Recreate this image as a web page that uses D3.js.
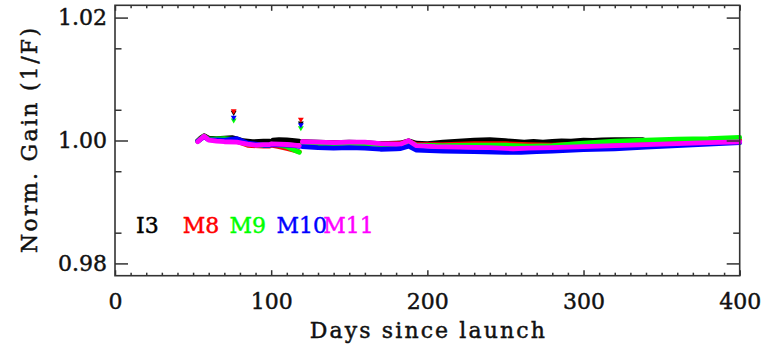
<!DOCTYPE html>
<html>
<head>
<meta charset="utf-8">
<script src="https://cdn.jsdelivr.net/npm/d3@7"></script>
<style>
  html, body { margin: 0; padding: 0; background: #fff; }
  svg { display: block; }
</style>
</head>
<body>
<svg id="chart" width="762" height="347"></svg>
<script>
// Normalized gain history per band; null marks a gap in the record.
const seriesNames  = ["I3", "M8", "M9", "M10", "M11"];
const seriesColors = ["#000000", "#ff0000", "#00ff00", "#0000ff", "#ff00ff"];

const i3Days = [53,55,57,60,65,70,75,78,82,88,95,99,99.5,101,105,110,115,118,119,120,130,140,150,160,170,180,183,188,193,200,210,220,230,240,250,256,262,268,274,280,286,292,300,306,312,320,330,338];
const i3Gain = [0.99997,1.00046,1.00078,1.00037,1.00029,1.00037,1.00046,1.00029,0.99997,0.99980,0.99989,0.99989,null,1.00005,1.00013,1.00008,0.99997,0.99989,null,0.99980,0.99972,0.99964,0.99972,0.99964,0.99948,0.99956,0.99960,0.99997,0.99956,0.99948,0.99972,0.99989,1.00005,1.00013,0.99997,0.99985,0.99975,0.99985,0.99975,0.99985,0.99995,0.99990,1.00005,1.00000,1.00010,1.00013,1.00013,1.00013];

const m8Days = [53,57,60,70,78,85,95,99,99.5,100,105,110,115,118,119,120,130,140,150,160,170,180,183,188,193,210,230,250,265,280,300,320,340,360,380,400];
const m8Gain = [0.99989,1.00070,1.00021,0.99997,0.99989,0.99923,0.99907,0.99907,null,0.99925,0.99900,0.99870,0.99840,0.99818,null,0.99972,0.99964,0.99956,0.99964,0.99956,0.99940,0.99948,0.99950,0.99989,0.99932,0.99932,0.99948,0.99948,0.99932,0.99923,0.99948,0.99956,0.99972,0.99980,0.99989,1.00005];

const m9Days = [53,57,60,70,78,85,95,99,99.5,100,105,110,115,118,119,120,130,140,150,160,170,180,183,188,193,210,230,250,265,280,300,320,340,360,380,400];
const m9Gain = [0.99989,1.00070,1.00021,1.00029,1.00013,0.99940,0.99923,0.99923,null,0.99940,0.99923,0.99899,0.99842,0.99809,null,0.99956,0.99948,0.99948,0.99956,0.99948,0.99932,0.99932,0.99935,0.99980,0.99923,0.99915,0.99923,0.99923,0.99907,0.99915,0.99956,0.99989,1.00005,1.00021,1.00029,1.00049];

const m10Days = [53,57,60,70,78,85,95,99,99.5,100,105,110,115,118,119,120,130,140,150,160,170,180,183,188,193,210,230,250,260,270,280,300,320,340,360,380,400];
const m10Gain = [0.99989,1.00062,1.00013,1.00005,1.00029,0.99956,0.99923,0.99923,null,0.99935,0.99930,0.99925,0.99915,0.99905,null,0.99899,0.99883,0.99875,0.99883,0.99875,0.99858,0.99866,0.99870,0.99907,0.99842,0.99826,0.99818,0.99809,0.99809,0.99818,0.99826,0.99850,0.99866,0.99891,0.99915,0.99940,0.99964];

const m11Days = [53,57,60,65,70,78,85,90,95,99,99.5,100,110,118,119,120,130,140,150,160,170,180,183,188,193,205,220,240,255,265,280,300,320,340,360,380,400];
const m11Gain = [0.99980,1.00070,1.00005,0.99989,0.99980,0.99972,0.99940,0.99923,0.99932,0.99932,null,0.99945,0.99935,0.99918,null,0.99980,0.99972,0.99964,0.99972,0.99972,0.99948,0.99940,0.99944,0.99997,0.99915,0.99899,0.99891,0.99883,0.99866,0.99875,0.99883,0.99899,0.99915,0.99932,0.99948,0.99964,0.99977];

// Isolated high readings on two days
const spikeDays = [76, 119];
const i3Spike  = [1.00455, 1.00280];
const m8Spike  = [1.00480, 1.00344];
const m9Spike  = [1.00330, 1.00205];
const m10Spike = [1.00375, 1.00255];
const m11Spike = [null, null];

const xTickValues = [0, 100, 200, 300, 400];
const xTickLabels = ["0", "100", "200", "300", "400"];
const yTickValues = [0.98, 1.00, 1.02];
const yTickLabels = ["0.98", "1.00", "1.02"];
const xTitle = "Days since launch";
const yTitle = "Norm. Gain (1/F)";

const seriesDays  = [i3Days, m8Days, m9Days, m10Days, m11Days];
const seriesGain  = [i3Gain, m8Gain, m9Gain, m10Gain, m11Gain];
const seriesSpike = [i3Spike, m8Spike, m9Spike, m10Spike, m11Spike];

// Layout
const W = 762, H = 347;
const plot = { left: 115, right: 739.7, top: 5.3, bottom: 275.7 };
const FONT = "'DejaVu Serif', serif";
const AXIS_COLOR = "#333";
const TEXT_COLOR = "#111";

const x = d3.scaleLinear().domain([0, 400]).range([plot.left, plot.right]);
const y = d3.scaleLinear().domain([0.978, 1.022]).range([plot.bottom, plot.top]);

const svg = d3.select("#chart");
svg.append("rect").attr("width", W).attr("height", H).attr("fill", "#fff");

// Slightly heavier glyphs for all labels
function heavyText(sel, color) {
  sel.attr("font-family", FONT)
    .attr("font-size", 22)
    .attr("fill", color)
    .attr("stroke", color)
    .attr("stroke-width", 0.45);
}

// Series traces
const line = d3.line()
  .defined(d => d.g != null)
  .x(d => x(d.d))
  .y(d => y(d.g));

const traces = svg.append("g");
seriesNames.forEach((name, i) => {
  const pts = seriesDays[i].map((d, k) => ({ d: d, g: seriesGain[i][k] }));
  traces.append("path")
    .datum(pts)
    .attr("d", line)
    .attr("fill", "none")
    .attr("stroke", seriesColors[i])
    .attr("stroke-width", 4.8)
    .attr("stroke-linejoin", "round")
    .attr("stroke-linecap", "round");
});

// Spike markers (small downward triangles)
const tri = d3.symbol().type(d3.symbolTriangle).size(15);
seriesNames.forEach((name, i) => {
  spikeDays.forEach((d, k) => {
    const g = seriesSpike[i][k];
    if (g == null) return;
    traces.append("path")
      .attr("d", tri())
      .attr("transform", `translate(${x(d)},${y(g)}) rotate(180)`)
      .attr("fill", seriesColors[i]);
  });
});

// Axes: ticks point inward on all four sides
function styleAxis(g) {
  g.select(".domain").remove();
  g.selectAll(".tick line").attr("stroke", AXIS_COLOR).attr("stroke-width", 1.5);
  g.selectAll(".tick text").call(heavyText, TEXT_COLOR);
}

const xMinor = d3.range(0, 401, 10).filter(v => v % 100 !== 0);
const yMinor = d3.range(0.980, 1.0201, 0.005).filter(v => Math.abs(Math.round(v * 100) - v * 100) > 1e-6);

svg.append("g")
  .attr("transform", `translate(0,${plot.bottom})`)
  .call(d3.axisBottom(x).tickValues(xTickValues).tickFormat((d, i) => xTickLabels[i])
    .tickSizeInner(-5.5).tickSizeOuter(0).tickPadding(17.5))
  .call(styleAxis);
svg.append("g")
  .attr("transform", `translate(0,${plot.bottom})`)
  .call(d3.axisBottom(x).tickValues(xMinor).tickFormat("").tickSizeInner(-3).tickSizeOuter(0))
  .call(styleAxis);
svg.append("g")
  .attr("transform", `translate(0,${plot.top})`)
  .call(d3.axisTop(x).tickValues(xTickValues).tickFormat("").tickSizeInner(-5.5).tickSizeOuter(0))
  .call(styleAxis);
svg.append("g")
  .attr("transform", `translate(0,${plot.top})`)
  .call(d3.axisTop(x).tickValues(xMinor).tickFormat("").tickSizeInner(-3).tickSizeOuter(0))
  .call(styleAxis);

svg.append("g")
  .attr("transform", `translate(${plot.left},0)`)
  .call(d3.axisLeft(y).tickValues(yTickValues).tickFormat((d, i) => yTickLabels[i])
    .tickSizeInner(-13).tickSizeOuter(0).tickPadding(8))
  .call(styleAxis);
svg.append("g")
  .attr("transform", `translate(${plot.left},0)`)
  .call(d3.axisLeft(y).tickValues(yMinor).tickFormat("").tickSizeInner(-6.5).tickSizeOuter(0))
  .call(styleAxis);
svg.append("g")
  .attr("transform", `translate(${plot.right},0)`)
  .call(d3.axisRight(y).tickValues(yTickValues).tickFormat("").tickSizeInner(-13).tickSizeOuter(0))
  .call(styleAxis);
svg.append("g")
  .attr("transform", `translate(${plot.right},0)`)
  .call(d3.axisRight(y).tickValues(yMinor).tickFormat("").tickSizeInner(-6.5).tickSizeOuter(0))
  .call(styleAxis);

// Plot frame
svg.append("rect")
  .attr("x", plot.left).attr("y", plot.top)
  .attr("width", plot.right - plot.left).attr("height", plot.bottom - plot.top)
  .attr("fill", "none").attr("stroke", AXIS_COLOR).attr("stroke-width", 1.6);

// Axis titles
svg.append("text")
  .attr("x", (plot.left + plot.right) / 2).attr("y", 338)
  .attr("text-anchor", "middle")
  .call(heavyText, TEXT_COLOR)
  .attr("textLength", 235).attr("lengthAdjust", "spacing")
  .text(xTitle);

svg.append("text")
  .attr("transform", `translate(37,${(plot.top + plot.bottom) / 2}) rotate(-90)`)
  .attr("text-anchor", "middle")
  .call(heavyText, TEXT_COLOR)
  .attr("textLength", 225).attr("lengthAdjust", "spacing")
  .text(yTitle);

// Band legend, evenly spaced inside the plot
const legendX = d3.scalePoint().domain(seriesNames).range([136, 136 + 4 * 46.8]);
svg.append("g").selectAll("text")
  .data(seriesNames)
  .join("text")
  .attr("x", d => legendX(d))
  .attr("y", 233)
  .each(function (d, i) { d3.select(this).call(heavyText, seriesColors[i]); })
  .text(d => d);
</script>
</body>
</html>
